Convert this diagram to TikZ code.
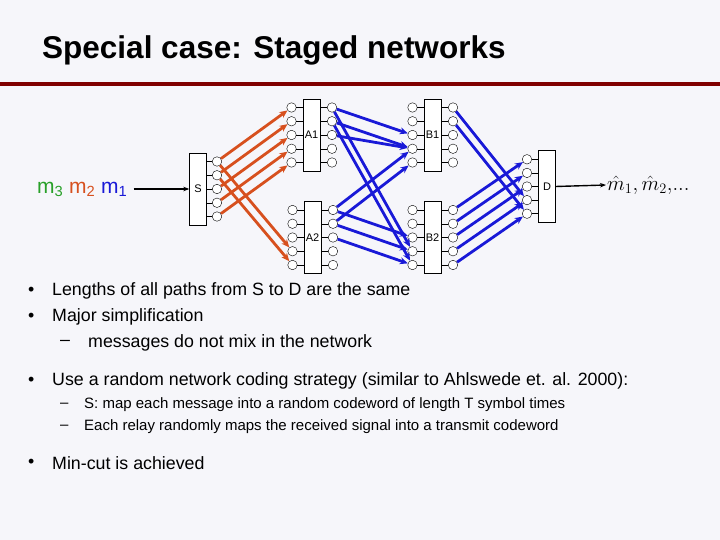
\documentclass[tikz,border=0pt]{standalone}
\usepackage{fontspec}
\setmainfont{Liberation Sans}
\usetikzlibrary{arrows.meta}
\definecolor{bg}{RGB}{246,246,250}
\definecolor{rline}{RGB}{128,0,0}
\definecolor{orng}{RGB}{215,80,30}
\definecolor{blu}{RGB}{25,25,215}
\definecolor{grn}{RGB}{40,160,40}
\begin{document}
\begin{tikzpicture}[x=1pt,y=-1pt,
  blk/.style={draw,fill=white,minimum width=17pt,minimum height=72pt,inner sep=0pt,font=\fontsize{11}{11}\selectfont},
  prt/.style={draw,fill=white,circle,minimum size=9.5pt,inner sep=0pt},
  oa/.style={orng,line width=2.8pt,-{Stealth[length=8pt,width=7pt]}},
  ba/.style={blu,line width=2.8pt,-{Stealth[length=8pt,width=7pt]}},
  txt/.style={anchor=west,inner sep=0pt,font=\fontsize{17.8}{18}\selectfont},
  stxt/.style={anchor=west,inner sep=0pt,font=\fontsize{15}{15}\selectfont}]
\fill[bg] (0,0) rectangle (720,540);
\useasboundingbox (0,0) rectangle (720,540);
\node[anchor=west,inner sep=0pt,font=\bfseries\fontsize{31.5}{32}\selectfont] (title) at (42,50) {Special case: Staged networks};
\draw[rline,line width=4pt] (0,84) coordinate (l1) -- (720,84) coordinate (l2);
% blocks
\node[blk] (S) at (198,189) {S};
\node[blk] (A1) at (311.5,135) {A1};
\node[blk] (A2) at (312.5,237.5) {A2};
\node[blk] (B1) at (432.5,135) {B1};
\node[blk] (B2) at (432.5,237.5) {B2};
\node[blk] (D) at (547,186.5) {D};
\foreach \n in {A1,A2,B1,B2,S}{
  \foreach \i in {1,...,5}{
    \path (\n.center) ++(0,{(\i-3)*13.75}) coordinate (\n c\i);
  }}
\foreach \n in {A1,A2,B1,B2}{
  \foreach \i in {1,...,5}{
    \node[prt] (\n i\i) at ([xshift=-20pt]\n c\i) {};
    \node[prt] (\n o\i) at ([xshift=20.5pt]\n c\i) {};
    \draw (\n i\i) -- (\n i\i -| \n.west);
    \draw (\n o\i) -- (\n o\i -| \n.east);
  }}
\foreach \i in {1,...,5}{
  \node[prt] (So\i) at ([xshift=19pt]Sc\i) {};
  \draw (So\i) -- (So\i -| S.east);
  \path (D.center) ++(0,{(\i-3)*13.6}) coordinate (Dc\i);
  \node[prt] (Di\i) at ([xshift=-20pt]Dc\i) {};
  \draw (Di\i) -- (Di\i -| D.west);
}
% orange
\foreach \i in {1,...,5}{ \draw[oa] (So\i) -- (A1i\i); }
\draw[oa] (So1) -- (A2i4);
\draw[oa] (So2) -- (A2i5);
% blue
\draw[ba] (A1o1) -- (B1i3);
\draw[ba] (A1o1) -- (B2i4);
\draw[ba] (A1o2) -- (B1i4);
\draw[ba] (A1o2) -- (B2i5);
\draw[ba] (A1o3) -- (B1i4);
\draw[ba] (A2o1) -- (B1i4);
\draw[ba] (A2o1) -- (B2i3);
\draw[ba] (A2o2) -- (B1i5);
\draw[ba] (A2o2) -- (B2i4);
\draw[ba] (A2o3) -- (B2i5);
\draw[ba] (B1o1) -- (Di4);
\draw[ba] (B1o2) -- (Di5);
\foreach \i in {1,...,5}{ \draw[ba] (B2o\i) -- (Di\i); }
% in / out
\node[anchor=west,inner sep=0pt,font=\fontsize{21}{21}\selectfont] (msg) at (37,189)
  {\textcolor{grn}{m\textsubscript{3}} \textcolor{orng}{m\textsubscript{2}} \textcolor{blu}{m\textsubscript{1}}};
\draw[line width=1.4pt,-{Stealth[length=6pt]}] (msg.east) ++(6pt,0) coordinate (mi) -- (S.west);
\node[anchor=west,inner sep=0pt,font=\fontsize{21}{21}\selectfont] (out) at (607,185) {$\hat m_1,\hat m_2,\!\ldotp\!\ldotp\!\ldotp$};
\draw[line width=1.4pt,-{Stealth[length=6pt]}] (D.east) -- ([xshift=-1pt]out.west);
% bullets
\node[txt] (b1) at (28,291) {•};
\node[txt] (t1) at (52,291) {Lengths of all paths from S to D are the same};
\node[txt] (b2) at (28,317) {•};
\node[txt] (t2) at (52,317) {Major simplification};
\node[txt] (d1) at (60,343) {–};
\node[txt] (t3) at (88,343) {messages do not mix in the network};
\node[txt] (b3) at (28,381) {•};
\node[txt] (t4) at (52,381) {Use a random network coding strategy (similar to Ahlswede et. al. 2000):};
\node[stxt] (d2) at (60,405) {–};
\node[stxt] (t5) at (84,405) {S: map each message into a random codeword of length T symbol times};
\node[stxt] (d3) at (60,427) {–};
\node[stxt] (t6) at (84,427) {Each relay randomly maps the received signal into a transmit codeword};
\node[txt] (b4) at (28,463) {•};
\node[txt] (t7) at (52,463) {Min-cut is achieved};
\end{tikzpicture}
\end{document}
